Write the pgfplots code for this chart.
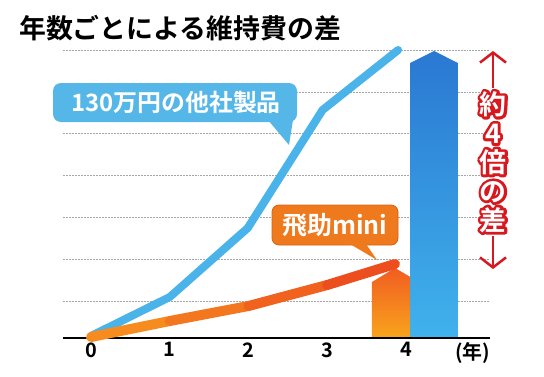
\documentclass[border=0pt]{standalone}
\usepackage{pgfplots}
\pgfplotsset{compat=1.18}
\usepackage{fontspec}
\setmainfont{Noto Sans CJK JP}[BoldFont={Noto Sans CJK JP Bold}]
\usetikzlibrary{arrows.meta}
\definecolor{skyline}{HTML}{4AB3E9}
\definecolor{skybox}{HTML}{55B6E8}
\definecolor{orline}{HTML}{F2701F}
\definecolor{orbox}{HTML}{EF7A1E}
\definecolor{orborder}{HTML}{D9600F}
\definecolor{bartopB}{HTML}{2A78D2}
\definecolor{barbotB}{HTML}{40B2EC}
\definecolor{bartopO}{HTML}{EF4B22}
\definecolor{barbotO}{HTML}{F8A41C}
\definecolor{redc}{HTML}{D7191F}
\newcommand{\strokeon}{\special{pdf:literal direct 1 Tr 5.5 w 1 j}}
\newcommand{\strokeoff}{\special{pdf:literal direct 0 Tr 1 w 0 j}}
\begin{document}
\begin{tikzpicture}[x=1bp,y=1bp]
\useasboundingbox (0,0) rectangle (544,376);
\begin{axis}[
  at={(63bp,38bp)}, anchor=south west,
  scale only axis, width=427bp, height=300bp,
  xmin=-0.356, xmax=5.067, ymin=0, ymax=300,
  axis line style={draw=none}, tick style={draw=none},
  ytick={37,79,121,163,205,246,288}, yticklabels={},
  ymajorgrids, grid style={black!35, dash pattern=on 2pt off 1pt, line width=0.6pt},
  xtick={0,1,2,3,4,4.85}, xticklabels={0,1,2,3,4,(年)},
  xticklabel style={font=\fontsize{20}{20}\selectfont\bfseries, yshift=-1bp},
  clip=false,
]
% bars
\addplot[draw=none, top color=barbotO!20!bartopO, bottom color=barbotO] coordinates {(3.568,0) (3.568,56) (3.86,70) (4.165,56) (4.165,0)} \closedcycle;
\addplot[draw=none, top color=bartopB, bottom color=barbotB] coordinates {(4.051,0) (4.051,275) (4.356,287) (4.660,275) (4.660,0)} \closedcycle;
% baseline
\draw[black, line width=2bp] (axis cs:-0.356,0) -- (axis cs:5.067,0);
% lines
\addplot[skyline, line width=8bp, line cap=round, line join=round, mark=none] coordinates {(0,2) (1.0,41) (1.99,110) (2.94,228) (3.90,288)};
\addplot[mesh, point meta=x, colormap={orl}{rgb255=(247,150,31) rgb255=(236,70,30)}, line width=10bp, line cap=round, line join=round, mark=none] coordinates {(0,1) (1,17) (2,32) (3,53) (3.86,74)};
\end{axis}
% title
\node[anchor=west, inner sep=0, font=\fontsize{27}{27}\selectfont\bfseries] at (19,348) {年数ごとによる維持費の差};
% blue label
\fill[skybox, rounded corners=8bp] (53,254) rectangle (297,293);
\fill[skybox] (268,256) -- (293,256) -- (289,231) -- cycle;
\node[text=white, inner sep=0, font=\fontsize{24}{24}\selectfont\bfseries] at (176,273.5) {130万円の他社製品};
% orange label
\filldraw[fill=orbox, draw=orborder, line width=0.8bp, rounded corners=7bp] (272,131) rectangle (398,171);
\fill[orbox] (350,132) -- (366,132) -- (377,116) -- cycle;
\node[text=white, inner sep=0, font=\fontsize{25}{25}\selectfont\bfseries] at (335,151) {飛助mini};
% red arrow
\draw[redc, line width=2.5bp, -{Straight Barb[length=10bp, width=26bp]}] (493,288) -- (493,325);
\draw[redc, line width=2.5bp, -{Straight Barb[length=10bp, width=26bp]}] (493,140) -- (493,107);
\node[text=redc, inner sep=0, align=center, font=\fontsize{27}{29}\selectfont\bfseries] at (493,214) {\strokeon 約\\4\\倍\\の\\差\strokeoff};
\node[text=white, inner sep=0, align=center, font=\fontsize{27}{29}\selectfont\bfseries] at (493,214) {約\\4\\倍\\の\\差};
\end{tikzpicture}
\end{document}
